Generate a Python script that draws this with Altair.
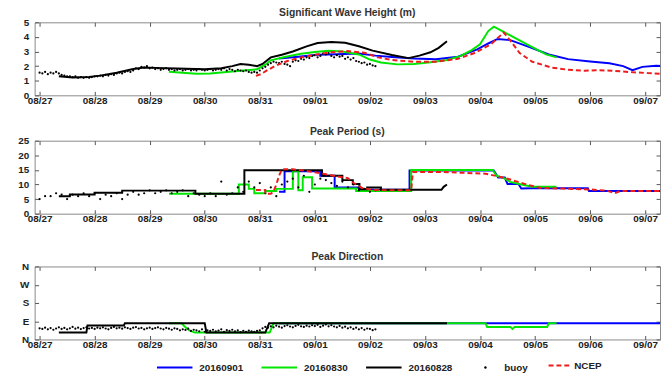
import json
import altair as alt
import pandas as pd

FONT = "Liberation Sans"

# ---- axis labels ----
DATE_LABELS = ["08/27", "08/28", "08/29", "08/30", "08/31", "09/01",
               "09/02", "09/03", "09/04", "09/05", "09/06", "09/07"]
DIR_LABELS = ["N", "E", "S", "W", "N"]
HS_TICKS = [0, 1, 2, 3, 4, 5]
TP_TICKS = [0, 5, 10, 15, 20, 25]
DIR_TICKS = [0, 90, 180, 270, 360]

RUNS = ["20160901", "20160830", "20160828"]
RUN_COLORS = ["#0000ff", "#00e600", "#000000"]
NCEP_COLOR = "#ee1c1c"

# ---- Significant wave height (m): (days since 08/27 00:00, value) ----
HS_0828 = [(0.35, 1.3), (0.6, 1.22), (0.9, 1.25), (1.1, 1.35), (1.4, 1.55), (1.7, 1.8),
           (1.9, 1.9), (2.1, 1.88), (2.5, 1.83), (3.0, 1.78), (3.3, 1.85), (3.5, 2.0),
           (3.65, 2.15), (3.8, 2.1), (3.95, 2.0), (4.05, 2.15), (4.2, 2.6), (4.4, 2.78),
           (4.6, 3.0), (4.85, 3.35), (5.05, 3.58), (5.3, 3.66), (5.55, 3.6), (5.8, 3.36),
           (6.05, 3.06), (6.4, 2.76), (6.7, 2.55), (6.9, 2.72), (7.1, 2.95), (7.25, 3.25),
           (7.4, 3.7)]
HS_0830 = [(2.35, 1.62), (2.6, 1.55), (2.85, 1.48), (3.1, 1.5), (3.4, 1.6), (3.7, 1.7),
           (3.95, 1.78), (4.1, 2.1), (4.2, 2.4), (4.45, 2.62), (4.75, 2.85), (5.0, 2.97),
           (5.25, 3.05), (5.5, 3.0), (5.8, 2.8), (6.0, 2.45), (6.2, 2.25), (6.5, 2.12),
           (6.8, 2.14), (7.1, 2.27), (7.4, 2.42), (7.65, 2.7), (7.85, 3.1), (8.0, 3.5),
           (8.15, 4.4), (8.25, 4.7), (8.38, 4.45), (8.6, 4.0), (8.95, 3.3), (9.2, 2.8),
           (9.39, 2.6)]
HS_0901 = [(4.35, 2.52), (4.7, 2.64), (5.05, 2.78), (5.4, 2.82), (5.8, 2.86), (6.1, 2.72),
           (6.4, 2.62), (6.8, 2.52), (7.2, 2.47), (7.6, 2.64), (7.95, 3.15), (8.15, 3.55),
           (8.32, 3.86), (8.55, 3.78), (8.9, 3.3), (9.25, 2.8), (9.6, 2.48), (10.0, 2.32),
           (10.35, 2.2), (10.6, 2.0), (10.77, 1.72), (10.95, 1.95), (11.2, 2.03), (11.35, 2.0)]
HS_NCEP = [(3.93, 1.33), (4.02, 1.45), (4.15, 1.75), (4.3, 2.05), (4.5, 2.35), (4.75, 2.6),
           (5.0, 2.78), (5.3, 2.95), (5.6, 3.03), (5.9, 2.92), (6.15, 2.6), (6.4, 2.42),
           (6.8, 2.3), (7.2, 2.3), (7.6, 2.5), (7.9, 2.9), (8.2, 3.5), (8.43, 4.3),
           (8.55, 3.75), (8.72, 2.9), (8.95, 2.3), (9.3, 1.9), (9.6, 1.75), (9.9, 1.68),
           (10.1, 1.72), (10.4, 1.69), (10.7, 1.6), (11.05, 1.52), (11.35, 1.47)]
BUOY_HS_STEP = 0.05
BUOY_HS = [1.55, 1.5, 1.6, 1.45, 1.55, 1.5, 1.6, 1.5, 1.4, 1.35, 1.3, 1.3, 1.25, 1.3, 1.2, 1.25, 1.2, 1.25, 1.2, 1.25,
           1.3, 1.3, 1.35, 1.3, 1.4, 1.35, 1.45, 1.4, 1.5, 1.55, 1.5, 1.6, 1.65, 1.6, 1.7, 1.85, 1.8, 1.95, 1.9, 2.0,
           1.85, 1.9, 1.8, 1.85, 1.75, 1.8, 1.85, 1.75, 1.8, 1.7, 1.75, 1.8, 1.7, 1.75, 1.8, 1.7, 1.75, 1.7, 1.8, 1.75,
           1.7, 1.75, 1.8, 1.7, 1.75, 1.8, 1.75, 1.85, 1.7, 1.8, 1.75, 1.65, 1.75, 1.7, 1.65, 1.7, 1.6, 1.55, 1.6, 1.55,
           1.7, 1.85, 1.95, 2.1, 2.2, 2.3, 2.25, 2.2, 2.3, 2.15, 2.1, 2.0, 2.3, 2.4, 2.35, 2.5, 2.45, 2.6, 2.55, 2.7,
           2.75, 2.6, 2.7, 2.85, 2.8, 2.9, 2.7, 2.6, 2.75, 2.65, 2.7, 2.5, 2.6, 2.45, 2.55, 2.35, 2.3, 2.2, 2.25, 2.1,
           2.15, 2.05, 2.0]

# ---- Peak period (s) ----
TP_0828 = [(0.35, 6.0), (0.55, 6.0), (0.55, 6.6), (1.0, 6.6), (1.0, 7.2), (1.5, 7.2), (1.5, 7.9),
           (2.83, 7.9), (2.83, 6.8), (3.72, 6.8), (3.72, 14.9), (5.13, 14.9), (5.13, 13.0),
           (5.5, 13.0), (5.5, 11.5), (5.69, 11.5), (5.69, 10.2), (5.81, 10.2), (5.81, 8.4),
           (5.95, 8.4), (5.95, 9.0), (6.2, 9.0), (6.2, 8.2), (7.3, 8.2), (7.34, 9.2), (7.4, 10.0)]
TP_0830 = [(2.35, 6.8), (3.62, 6.8), (3.62, 10.0), (3.8, 10.0), (3.8, 8.5), (3.9, 8.5), (3.9, 7.0),
           (4.1, 7.0), (4.1, 7.8), (4.3, 7.8), (4.3, 8.5), (4.6, 8.5), (4.6, 14.5), (4.7, 14.5),
           (4.7, 8.0), (4.78, 8.0), (4.78, 12.5), (4.95, 12.5), (4.95, 8.6), (5.75, 8.6),
           (5.75, 7.8), (6.75, 7.8), (6.75, 15.0), (8.23, 15.0), (8.3, 13.0), (8.45, 12.0),
           (8.55, 10.9), (8.75, 10.0), (8.95, 9.2), (9.39, 9.2)]
TP_0901 = [(4.35, 7.5), (4.45, 7.5), (4.45, 14.5), (5.1, 14.5), (5.1, 13.0), (5.36, 13.0),
           (5.36, 9.0), (5.8, 9.0), (5.8, 8.2), (6.72, 8.2), (6.72, 14.8), (8.25, 14.8),
           (8.33, 12.4), (8.45, 12.4), (8.5, 10.2), (8.7, 10.2), (8.75, 8.6), (9.1, 8.8),
           (9.5, 8.7), (9.96, 8.7), (9.98, 7.8), (11.35, 7.8)]
TP_NCEP = [(3.93, 8.1), (4.1, 8.1), (4.1, 6.8), (4.2, 6.8), (4.25, 7.6), (4.3, 10.0), (4.35, 13.0),
           (4.4, 15.2), (4.6, 15.2), (4.8, 14.8), (5.0, 14.2), (5.2, 13.5), (5.4, 12.8), (5.6, 12.2),
           (5.7, 10.6), (5.85, 8.9), (6.05, 8.1), (6.75, 8.0), (6.78, 14.3), (7.3, 14.3), (7.7, 14.0),
           (8.1, 13.7), (8.3, 12.9), (8.5, 12.0), (8.6, 11.4), (8.85, 10.0), (9.1, 8.8), (9.5, 8.6),
           (10.0, 8.3), (10.3, 7.9), (10.45, 7.0), (10.55, 7.8), (11.35, 7.8)]
BUOY_TP_STEP = 0.1
BUOY_TP = [5.0, 6.0, 6.0, 7.0, 6.5, 5.0, 6.5, 6.0, 7.0, 6.0,
           7.0, 5.0, 6.5, 6.0, 7.0, 5.0, 6.5, 7.5, 6.5, 7.0,
           8.0, 7.0, 7.5, 8.0, 7.0, 7.5, 8.0, 6.0, 7.0, 6.5,
           6.0, 7.0, 6.0, 11.0, 6.5, 7.0, 9.0, 7.5, 11.0, 9.0,
           10.5, 7.0, 9.0, 6.0, 10.0, 11.0, 12.0, 9.0, 13.0, 7.5,
           10.0, 12.0, 11.5, 10.5, 9.5, 11.0, 9.0, 10.0, 8.0, 8.5,
           7.5, 8.0]

# ---- Peak direction (deg, N=0, E=90) ----
DIR_0828 = [(0.35, 34), (0.85, 34), (0.87, 69), (1.53, 69), (1.55, 80), (3.0, 80), (3.03, 34),
            (4.1, 34), (4.17, 80), (7.4, 80)]
DIR_0830 = [(2.35, 80), (2.58, 80), (2.64, 62), (2.72, 45), (2.82, 34), (4.18, 34), (4.25, 80),
            (8.1, 80), (8.13, 62), (8.55, 62), (8.59, 52), (8.63, 62), (9.22, 62), (9.25, 80),
            (9.39, 80)]
DIR_0901 = [(4.35, 80), (11.35, 80)]
BUOY_DIR_STEP = 0.05
BUOY_DIR = [55, 52, 58, 50, 56, 48, 54, 60, 52, 57, 50, 55, 62, 53, 58, 51, 56, 60, 54, 57,
            52, 58, 55, 60, 54, 50, 57, 62, 55, 58, 53, 60, 56, 52, 58, 61, 54, 57, 50, 55,
            58, 52, 56, 60, 54, 50, 57, 53, 48, 55, 52, 45, 50, 47, 53, 42, 48, 45, 40, 50,
            38, 45, 42, 48, 40, 44, 50, 38, 46, 42, 48, 40, 45, 36, 43, 38, 44, 40, 37, 42,
            45, 55, 62, 58, 65, 60, 68, 63, 58, 66, 70, 64, 60, 67, 72, 65, 62, 68, 64, 70,
            66, 72, 62, 68, 74, 65, 70, 64, 60, 67, 58, 63, 55, 60, 52, 58, 50, 56, 48, 54,
            52, 46, 50]

# ---- layout ----
X_DOMAIN = [-0.09, 11.27]
PLOT_W = 634
PLOT_H = 74
Y_EXTENT = 22


def pairs_df(pairs, name):
    return pd.DataFrame({"day": [p[0] for p in pairs],
                         "value": [p[1] for p in pairs],
                         "series": [name] * len(pairs)})


def buoy_df(values, step):
    return pd.DataFrame({"day": [round(i * step, 3) for i in range(len(values))],
                         "value": values,
                         "series": ["buoy"] * len(values)})


LABEL_STYLE = dict(labelFont=FONT, labelFontSize=10, labelFontWeight="bold", labelColor="#222")
X_LABEL_EXPR = json.dumps(DATE_LABELS) + "[datum.value]"
X_TICKS = list(range(len(DATE_LABELS)))

XS = alt.Scale(domain=X_DOMAIN, nice=False, zero=False)


def ax_bottom():
    return alt.Axis(orient="bottom", values=X_TICKS, labelExpr=X_LABEL_EXPR, offset=-4, tickSize=4,
                    labelPadding=0, domain=False, grid=False, title=None, tickColor="#555",
                    labelFlush=False, labelOverlap=False, **LABEL_STYLE)


def ax_top():
    return alt.Axis(orient="top", values=X_TICKS, labels=False, offset=-4, tickSize=4,
                    domain=False, grid=False, title=None, tickColor="#555")


def ax_left(values, expr):
    kw = dict(orient="left", values=values, offset=-4, tickSize=4, labelPadding=6,
              domain=False, grid=False, title=None, tickColor="#555",
              minExtent=Y_EXTENT, maxExtent=Y_EXTENT, **LABEL_STYLE)
    if expr:
        kw["labelExpr"] = expr
    return alt.Axis(**kw)


def ax_right(values):
    return alt.Axis(orient="right", values=values, labels=False, offset=-4, tickSize=4,
                    domain=False, grid=False, title=None, tickColor="#555")


# legends live at the top level (shared), positioned relative to the first panel's origin
COLOR_LEGEND = alt.Legend(orient="none", legendX=123, legendY=331, direction="horizontal",
                          symbolType="stroke", symbolSize=1296, symbolStrokeWidth=2,
                          labelOffset=6, columnPadding=14, title=None, padding=0, **LABEL_STYLE)
SHAPE_LEGEND = alt.Legend(orient="none", legendX=452, legendY=345, direction="horizontal",
                          symbolSize=6, symbolFillColor="black", symbolStrokeWidth=0,
                          labelOffset=14, title=None, padding=0, **LABEL_STYLE)
DASH_LEGEND = alt.Legend(orient="none", legendX=520, legendY=335, direction="horizontal",
                         symbolType="stroke", symbolSize=576, symbolStrokeWidth=2,
                         symbolStrokeColor=NCEP_COLOR, labelOffset=1, title=None,
                         padding=0, **LABEL_STYLE)


def panel(title, ydomain, yticks, yexpr, runs, ncep, buoy):
    ys = alt.Scale(domain=ydomain, nice=False, zero=False)
    color_scale = alt.Scale(domain=RUNS, range=RUN_COLORS)
    layers = []
    for i, (name, pairs) in enumerate(runs):
        layers.append(
            alt.Chart(pairs_df(pairs, name)).mark_line(strokeWidth=2, clip=True).encode(
                x=alt.X("day:Q", scale=XS, axis=ax_bottom() if i == 0 else None),
                y=alt.Y("value:Q", scale=ys, axis=ax_left(yticks, yexpr) if i == 0 else None),
                color=alt.Color("series:N", scale=color_scale, legend=COLOR_LEGEND),
            )
        )
    layers.append(
        alt.Chart(buoy).mark_point(filled=True, size=5, opacity=1, color="black", clip=True).encode(
            x=alt.X("day:Q", scale=XS, axis=ax_top()),
            y=alt.Y("value:Q", scale=ys, axis=ax_right(yticks)),
            shape=alt.Shape("series:N", scale=alt.Scale(domain=["buoy"], range=["circle"]),
                            legend=SHAPE_LEGEND),
        )
    )
    if ncep is not None:
        layers.append(
            alt.Chart(pairs_df(ncep, "NCEP")).mark_line(strokeWidth=2, color=NCEP_COLOR, clip=True).encode(
                x=alt.X("day:Q", scale=XS, axis=None),
                y=alt.Y("value:Q", scale=ys, axis=None),
                strokeDash=alt.StrokeDash("series:N", scale=alt.Scale(domain=["NCEP"], range=[[5, 3]]),
                                          legend=DASH_LEGEND),
            )
        )
    return alt.layer(*layers).properties(
        width=PLOT_W, height=PLOT_H,
        title=alt.TitleParams(title, font=FONT, fontSize=10.5, fontWeight="bold", color="#333",
                              offset=-1.3, anchor="middle", frame="group"),
    )


p1 = panel("Significant Wave Height (m)", [0, 5], HS_TICKS, None,
           [("20160901", HS_0901), ("20160830", HS_0830), ("20160828", HS_0828)],
           HS_NCEP, buoy_df(BUOY_HS, BUOY_HS_STEP))
p2 = panel("Peak Period (s)", [0, 25], TP_TICKS, None,
           [("20160901", TP_0901), ("20160830", TP_0830), ("20160828", TP_0828)],
           TP_NCEP, buoy_df(BUOY_TP, BUOY_TP_STEP))
p3 = panel("Peak Direction", [0, 360], DIR_TICKS, json.dumps(DIR_LABELS) + "[datum.value / 90]",
           [("20160901", DIR_0901), ("20160830", DIR_0830), ("20160828", DIR_0828)],
           None, buoy_df(BUOY_DIR, BUOY_DIR_STEP))

upper = alt.vconcat(p1, p2, spacing=46, bounds="flush")
chart = alt.vconcat(upper, p3, spacing=27.5).properties(
    padding={"left": 8, "top": -3, "right": 0, "bottom": 0}
).configure(font=FONT).configure_view(stroke="#888", strokeWidth=1)

chart.save("out.html", embed_options={"renderer": "svg", "actions": False})
